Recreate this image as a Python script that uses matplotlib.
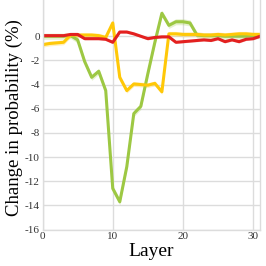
import numpy as np
import matplotlib
matplotlib.use("Agg")
import matplotlib.pyplot as plt

plt.rcParams['font.family'] = ['Liberation Serif', 'DejaVu Serif']
plt.rcParams['axes.unicode_minus'] = False

#%% data
layers = list(range(32))

green = [0.0, 0.0, 0.0, 0.0, 0.05, -0.3, -2.1, -3.4, -2.9, -4.5,
         -12.6, -13.7, -10.8, -6.4, -5.8, -3.1, -0.5, 1.9, 0.9, 1.2,
         1.2, 1.1, 0.1, 0.05, 0.05, 0.05, 0.0, 0.0, 0.0, 0.0,
         0.05, 0.05]
yellow = [-0.7, -0.6, -0.55, -0.5, 0.1, 0.1, 0.1, 0.1, 0.05, -0.1,
          1.1, -3.4, -4.5, -3.95, -4.0, -4.05, -3.9, -4.6, 0.2, 0.2,
          0.15, 0.15, 0.15, 0.1, 0.1, 0.15, 0.1, 0.15, 0.2, 0.2,
          0.15, 0.15]
red = [0.05, 0.05, 0.05, 0.05, 0.15, 0.15, -0.2, -0.2, -0.2, -0.25,
       -0.5, 0.35, 0.35, 0.2, 0.0, -0.2, -0.1, -0.05, -0.05, -0.5,
       -0.45, -0.4, -0.35, -0.3, -0.35, -0.2, -0.45, -0.3, -0.45, -0.25,
       -0.2, 0.0]
green_err = 0.25
yellow_err = 0.2
red_err = 0.1

colors = {'green': '#9dc843', 'yellow': '#ffc808', 'red': '#e3201f'}

#%% plot
fig = plt.figure(figsize=(2.66, 2.66), dpi=100)
ax = fig.add_axes([0.160, 0.137, 0.818, 0.863])

for vals, err, key in ((green, green_err, 'green'),
                       (yellow, yellow_err, 'yellow'),
                       (red, red_err, 'red')):
    v = np.array(vals)
    ax.fill_between(layers, v - err, v + err, color=colors[key],
                    alpha=0.25, linewidth=0)
    ax.plot(layers, v, color=colors[key], linewidth=2.2)

ax.set_xlim(0, 31)
ax.set_ylim(-16, 3)
ax.set_xticks([0, 10, 20, 30])
ax.set_yticks(list(range(-16, 1, 2)))
ax.grid(True, color='#dcdcdc', linewidth=1)
ax.set_axisbelow(True)
ax.tick_params(length=0, labelsize=8, pad=2, colors='#333333')

for s in ax.spines.values():
    s.set_color('#dcdcdc')
    s.set_linewidth(1)
ax.spines['top'].set_visible(False)

ax.set_xlabel('Layer', fontsize=14, labelpad=1)
ax.set_ylabel('Change in probability (%)', fontsize=13.5)
ax.yaxis.set_label_coords(-0.09, 0.49)

fig.savefig('out.png', dpi=100)
